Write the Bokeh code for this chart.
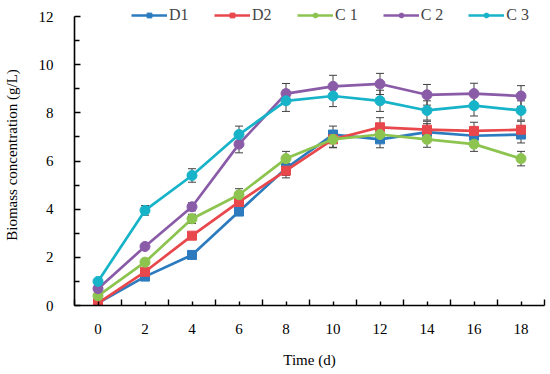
from bokeh.plotting import figure
from bokeh.models import (ColumnDataSource, FixedTicker, Whisker, TeeHead, Legend,
                          LegendItem, Range1d)
from bokeh.embed import file_html
from bokeh.resources import INLINE

time_d = [0, 2, 4, 6, 8, 10, 12, 14, 16, 18]

d1 = [0.1, 1.2, 2.1, 3.9, 5.7, 7.1, 6.9, 7.2, 7.05, 7.1]
d2 = [0.1, 1.4, 2.9, 4.3, 5.6, 6.9, 7.4, 7.3, 7.25, 7.3]
c1 = [0.4, 1.8, 3.6, 4.6, 6.1, 6.9, 7.1, 6.9, 6.7, 6.1]
c2 = [0.7, 2.45, 4.1, 6.7, 8.8, 9.1, 9.2, 8.75, 8.8, 8.7]
c3 = [1.0, 3.95, 5.4, 7.1, 8.5, 8.7, 8.5, 8.1, 8.3, 8.1]

d1_err = [0.05, 0.1, 0.1, 0.15, 0.3, 0.35, 0.35, 0.35, 0.35, 0.35]
d2_err = [0.05, 0.1, 0.1, 0.22, 0.3, 0.35, 0.4, 0.35, 0.36, 0.35]
c1_err = [0.05, 0.1, 0.19, 0.25, 0.3, 0.33, 0.33, 0.33, 0.3, 0.3]
c2_err = [0.05, 0.1, 0.17, 0.36, 0.42, 0.46, 0.44, 0.43, 0.43, 0.43]
c3_err = [0.05, 0.2, 0.28, 0.35, 0.44, 0.44, 0.44, 0.4, 0.43, 0.4]

series_names = ["D1", "D2", "C 1", "C 2", "C 3"]
series_vals = [d1, d2, c1, c2, c3]
series_errs = [d1_err, d2_err, c1_err, c2_err, c3_err]
series_colors = ["#2C7BBF", "#E8474C", "#8DC450", "#8A5CA8", "#17B3C9"]
series_markers = ["square", "square", "circle", "circle", "circle"]

x_ticks = [0, 2, 4, 6, 8, 10, 12, 14, 16, 18]
x_minor = [-1, 1, 3, 5, 7, 9, 11, 13, 15, 17, 19]
y_ticks = [0, 2, 4, 6, 8, 10, 12]
y_minor = [1, 3, 5, 7, 9, 11]

FONT = "Liberation Serif"

p = figure(width=550, height=374, output_backend="svg", toolbar_location=None,
           x_range=Range1d(-1, 19), y_range=Range1d(0, 12.5),
           min_border_left=73, min_border_right=6, min_border_top=4,
           min_border_bottom=69)
p.outline_line_color = None
p.grid.visible = False
p.background_fill_color = "white"

items = []
for name, vals, errs, col, mk in zip(series_names, series_vals, series_errs,
                                     series_colors, series_markers):
    src = ColumnDataSource(dict(x=time_d, y=vals,
                                upper=[v + e for v, e in zip(vals, errs)],
                                lower=[v - e for v, e in zip(vals, errs)]))
    ln = p.line("x", "y", source=src, line_color=col, line_width=2.7)
    sc = p.scatter("x", "y", source=src, marker=mk, size=10 if mk == "circle" else 9,
                   fill_color=col, line_color=col)
    w = Whisker(base="x", upper="upper", lower="lower", source=src,
                line_color="#404040", line_width=1,
                upper_head=TeeHead(size=8, line_color="#404040", line_width=1),
                lower_head=TeeHead(size=8, line_color="#404040", line_width=1))
    p.add_layout(w)
    items.append(LegendItem(label=name, renderers=[ln, sc]))

legend = Legend(items=items, orientation="horizontal", location=(57, 281),
                glyph_width=36, glyph_height=12, label_standoff=2, spacing=25,
                padding=0, margin=0, border_line_color=None,
                background_fill_alpha=0,
                label_text_font=FONT, label_text_font_size="16px",
                label_height=12)
p.add_layout(legend, "center")

xa = p.xaxis[0]
xa.ticker = FixedTicker(ticks=x_ticks, minor_ticks=x_minor)
xa.axis_label = "Time (d)"
ya = p.yaxis[0]
ya.ticker = FixedTicker(ticks=y_ticks, minor_ticks=y_minor)
ya.axis_label = "Biomass concentration (g/L)"
ya.bounds = (0, 12)

for ax in (xa, ya):
    ax.axis_line_color = "black"
    ax.axis_line_width = 1.6
    ax.major_tick_line_color = "black"
    ax.minor_tick_line_color = "black"
    ax.major_tick_line_width = 1.4
    ax.minor_tick_line_width = 1.4
    ax.major_tick_out = 0
    ax.minor_tick_out = 0
    ax.major_label_text_font = FONT
    ax.major_label_text_font_size = "15px"
    ax.major_label_text_color = "black"
    ax.axis_label_text_font = FONT
    ax.axis_label_text_font_size = "15px"
    ax.axis_label_text_font_style = "normal"
    ax.axis_label_text_color = "black"

xa.major_tick_in = 4
xa.minor_tick_in = 6
xa.major_label_standoff = 18
xa.axis_label_standoff = 15
ya.major_tick_in = 6
ya.minor_tick_in = 5
ya.major_label_standoff = 21
ya.axis_label_standoff = 16

open("out.html", "w").write(file_html(p, INLINE))
